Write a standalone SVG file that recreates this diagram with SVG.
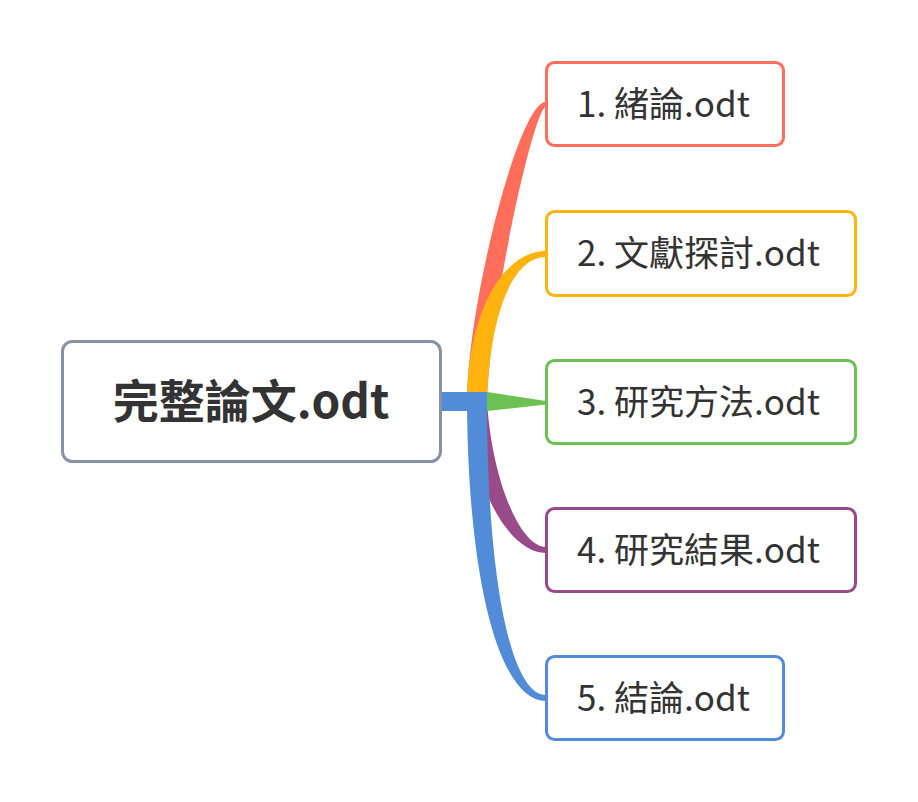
<svg xmlns="http://www.w3.org/2000/svg" width="918" height="802" viewBox="0 0 918 802">
<style>
.bg{fill:#ffffff}
.node{fill:#ffffff;stroke-width:3}
.lbl{font-family:"Noto Sans CJK TC","Noto Sans CJK SC",sans-serif;font-size:35px;fill:#333333}
.root{font-family:"Noto Sans CJK TC","Noto Sans CJK SC",sans-serif;font-size:46px;font-weight:bold;fill:#333333}
</style>
<rect class="bg" x="0" y="0" width="918" height="802"/>
<g id="connectors">
  <path id="c1" fill="#FF6E5A" d="M467,401 C468,300 520,100 546,102 L546,106 C532,114 490,310 487,401 Z"/>
  <path id="c2" fill="#FFB30F" d="M467,401 C468,308 505,251 546,251 L546,257 C512,257 490,315 487,401 Z"/>
  <path id="c4" fill="#994A89" d="M467,401 C472,490 510,553 546,553 L546,547 C520,547 492,480 487,401 Z"/>
  <path id="c3" fill="#6CC153" d="M487,392 L546,401 L546,404.5 L487,411 Z"/>
  <path id="c5" fill="#528BD8" d="M467,401 C468,585 500,701 546,701 L546,695 C510,695 487,575 487,401 Z"/>
  <rect id="c0" fill="#528BD8" x="441" y="392" width="46" height="19"/>
</g>
<g id="root">
  <rect class="node" stroke="#8792A8" x="62.5" y="341.5" width="378" height="120" rx="10"/>
  <text class="root" x="251" y="418" text-anchor="middle">完整論文.odt</text>
</g>
<g id="n1">
  <rect class="node" stroke="#FF6E5A" x="546.5" y="62.5" width="237" height="83" rx="8"/>
  <text class="lbl" x="577" y="116.5">1. 緒論.odt</text>
</g>
<g id="n2">
  <rect class="node" stroke="#FFB30F" x="546.5" y="211.5" width="309" height="84" rx="8"/>
  <text class="lbl" x="577" y="265.5">2. 文獻探討.odt</text>
</g>
<g id="n3">
  <rect class="node" stroke="#6CC153" x="546.5" y="360.5" width="309" height="83" rx="8"/>
  <text class="lbl" x="577" y="414.5">3. 研究方法.odt</text>
</g>
<g id="n4">
  <rect class="node" stroke="#994A89" x="546.5" y="508.5" width="309" height="83" rx="8"/>
  <text class="lbl" x="577" y="562.5">4. 研究結果.odt</text>
</g>
<g id="n5">
  <rect class="node" stroke="#528BD8" x="546.5" y="656.5" width="237" height="83" rx="8"/>
  <text class="lbl" x="577" y="710.5">5. 結論.odt</text>
</g>
</svg>
